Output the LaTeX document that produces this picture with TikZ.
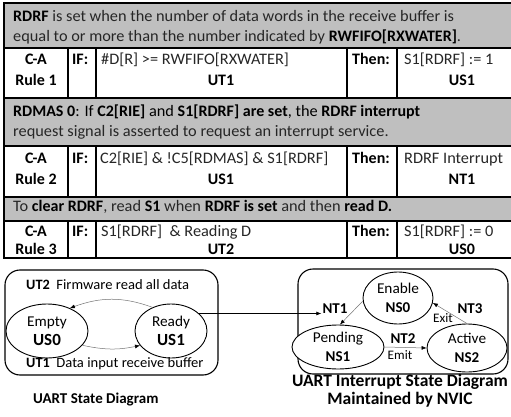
\documentclass[tikz,border=0pt]{standalone}
\usepackage{fontspec}
\setmainfont{Carlito}[UprightFeatures={FakeStretch=1.02}]
\usetikzlibrary{arrows.meta,positioning,shapes.geometric}
\definecolor{rowgray}{HTML}{BFBFBF}

\begin{document}
\begin{tikzpicture}[x=1pt,y=-1pt,
    cell/.style={inner sep=0pt, anchor=mid west, text=black!85, font=\fontsize{16}{19}\selectfont},
    key/.style={inner sep=0pt, anchor=mid, font=\fontsize{16}{19}\selectfont\bfseries},
    state/.style={draw, ellipse, inner sep=0pt, align=center, fill=white, line width=0.9pt, font=\fontsize{15}{18.5}\selectfont},
    trans/.style={-{Latex[length=5pt,width=4pt,color=black]}, draw=black!55, line width=0.5pt},
    lbl/.style={inner sep=1pt, font=\fontsize{14.3}{16}\selectfont},
    tag/.style={inner sep=1pt, font=\fontsize{15}{17}\selectfont\bfseries},
    capt/.style={inner sep=0pt, align=center, font=\fontsize{17.5}{18}\selectfont\bfseries}]
  \useasboundingbox (0,0) rectangle (511,417);

  % table: shaded rows and rules
  \begin{scope}
    \clip (0,0) rectangle (511,417);
    \fill[rowgray] (4,3) rectangle (530,48);
    \fill[rowgray] (4,98) rectangle (530,146);
    \fill[rowgray] (4,197) rectangle (530,221);
    \draw[line width=1.3pt] (4,3) rectangle (530,258);
    \foreach \y in {48,98,146,197,221}
      \draw[line width=1.3pt] (4,\y) -- (530,\y);
    \foreach \ya/\yb in {48/98,146/197,221/258}
      \foreach \x in {68,96,347,397}
        \draw[line width=1.3pt] (\x,\ya) -- (\x,\yb);
  \end{scope}

  % row 1
  \node[cell] (desc1a) at (13,19) {\textbf{\color{black}RDRF} is set when the number of data words in the receive buffer is};
  \node[cell] (desc1b) at (13,39) {equal to or more than the number indicated by \textbf{\color{black}RWFIFO[RXWATER]}.};

  % rule 1
  \node[key] (ca1) at (36,62) {C-A};
  \node[key] (rule1) at (36,83) {Rule 1};
  \node[key, anchor=mid west] (if1) at (72,62) {IF:};
  \node[cell] (cond1) at (101,62) {\#D[R] >= RWFIFO[RXWATER]};
  \node[key] (ut1t) at (221,83) {UT1};
  \node[key, anchor=mid west] (then1) at (352,62) {Then:};
  \node[cell] (act1) at (404,62) {S1[RDRF] := 1};
  \node[key] (us1t) at (462,83) {US1};

  % row 3
  \node[cell] (desc2a) at (13,114) {\color{black}\textbf{RDMAS 0}: If \textbf{C2[RIE]} and \textbf{S1[RDRF] are set}, the \textbf{RDRF interrupt}};
  \node[cell] (desc2b) at (13,134) {request signal is asserted to request an interrupt service.};

  % rule 2
  \node[key] (ca2) at (36,161) {C-A};
  \node[key] (rule2) at (36,182) {Rule 2};
  \node[key, anchor=mid west] (if2) at (72,161) {IF:};
  \node[cell] (cond2) at (100,161) {C2[RIE] \& !C5[RDMAS] \& S1[RDRF]};
  \node[key] (us1c) at (221,182) {US1};
  \node[key, anchor=mid west] (then2) at (352,161) {Then:};
  \node[cell] (act2) at (404,161) {RDRF Interrupt};
  \node[key] (nt1t) at (462,182) {NT1};

  % row 5
  \node[cell] (desc3) at (13,209) {To \textbf{\color{black}clear RDRF}, read \textbf{\color{black}S1} when \textbf{\color{black}RDRF is set} and then \textbf{\color{black}read D.}};

  % rule 3
  \node[key] (ca3) at (36,234) {C-A};
  \node[key] (rule3) at (36,252) {Rule 3};
  \node[key, anchor=mid west] (if3) at (72,234) {IF:};
  \node[cell] (cond3) at (101,234) {S1[RDRF]~~\& Reading D};
  \node[key] (ut2t) at (221,252) {UT2};
  \node[key, anchor=mid west] (then3) at (352,234) {Then:};
  \node[cell] (act3) at (404,234) {S1[RDRF] := 0};
  \node[key] (us0t) at (462,252) {US0};

  % UART state diagram
  \draw[line width=1.1pt, rounded corners=15pt] (5,270) rectangle (218,375);
  \node[state, minimum width=82pt, minimum height=54pt] (empty) at (47,331)
    {Empty\\\fontsize{17}{18}\selectfont\bfseries US0};
  \node[state, minimum width=72pt, minimum height=54pt] (ready) at (171,331)
    {Ready\\\fontsize{17}{18}\selectfont\bfseries US1};
  \node[lbl, anchor=mid west] (ut2) at (25,287) {\textbf{UT2}~~Firmware read all data};
  \node[lbl, anchor=mid west] (ut1) at (25,365) {\textbf{UT1}~~Data input receive buffer};
  \draw[trans] (ready.128) to[out=160, in=20] (empty.45);
  \draw[trans] (empty.-22) to[out=-12, in=192] (ready.205);

  % interrupt state diagram
  \draw[line width=1.1pt, rounded corners=15pt] (298,269) rectangle (508,374);
  \node[state, minimum width=70pt, minimum height=52pt] (enable) at (398,298)
    {Enable\\\bfseries NS0};
  \node[state, minimum width=92pt, minimum height=44pt] (pending) at (338,347)
    {Pending\\\bfseries NS1};
  \node[state, minimum width=80pt, minimum height=48pt] (active) at (467,348)
    {Active\\\bfseries NS2};
  \node[tag] (nt1) at (335,309) {NT1};
  \node[tag] (nt2) at (403,339) {NT2};
  \node[lbl, font=\fontsize{13}{15}\selectfont] (emit) at (400,355) {Emit};
  \node[tag] (nt3) at (470,309) {NT3};
  \node[lbl, font=\fontsize{13}{15}\selectfont] (exit) at (443,318) {Exit};
  \draw[trans] (enable.185) -- (pending.85);
  \draw[trans] (pending.east) -- (active.west);
  \draw[trans] (active.north) -- (enable.-8);

  % link between the two diagrams
  \draw[-{Latex[length=5pt,width=4pt]}, line width=0.6pt] (ready.32) -- (ready.32 -| nt1.west);

  % captions
  \node[capt, anchor=mid west, font=\fontsize{15}{18}\selectfont\bfseries] (captl) at (33,401) {UART State Diagram};
  \node[capt] (captr) at (400,391) {UART Interrupt State Diagram\\Maintained by NVIC};
\end{tikzpicture}
\end{document}
